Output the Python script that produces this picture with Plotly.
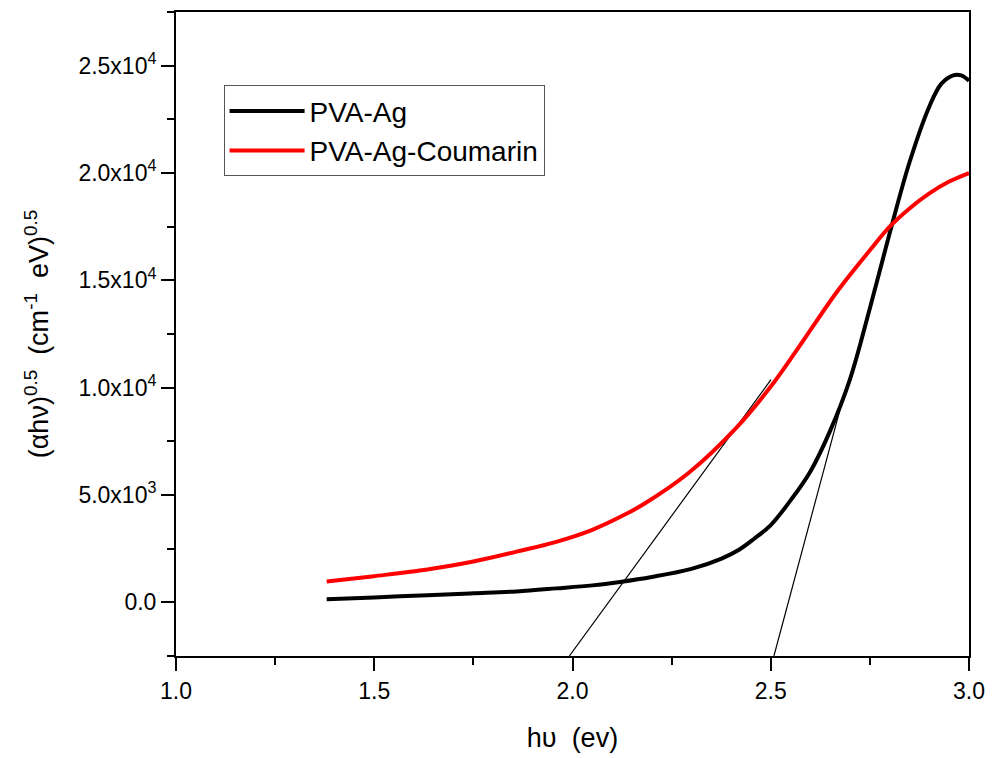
import plotly.graph_objects as go

# PVA-Ag
x_ag = [1.38, 1.5, 1.634, 1.75, 1.859, 1.959, 2.05, 2.12, 2.2, 2.3, 2.376, 2.42, 2.458, 2.5,
        2.55, 2.6, 2.65, 2.7, 2.75, 2.8, 2.85, 2.9, 2.93, 2.96, 2.98, 3.0]
y_ag = [140, 230, 330, 420, 510, 650, 790, 950, 1180, 1560, 2040, 2450, 2960, 3600,
        4750, 6100, 8000, 10400, 13700, 17200, 20500, 23100, 24150, 24550, 24550, 24300]

# PVA-Ag-Coumarin
x_co = [1.38, 1.5, 1.634, 1.75, 1.859, 1.959, 2.05, 2.126, 2.18, 2.291, 2.416, 2.5,
        2.566, 2.668, 2.75, 2.8, 2.85, 2.9, 2.95, 3.0]
y_co = [970, 1220, 1530, 1900, 2360, 2820, 3380, 4030, 4580, 6000, 8190, 10050,
        11760, 14490, 16400, 17500, 18350, 19050, 19600, 20000]

# Tangent (extrapolation) lines
tan1_x = [1.992, 2.5006]
tan1_y = [-2500, 10370]
tan2_x = [2.508, 2.688]
tan2_y = [-2500, 9900]

x_ticks = [1.0, 1.5, 2.0, 2.5, 3.0]
x_labels = ["1.0", "1.5", "2.0", "2.5", "3.0"]
y_ticks = [0, 5000, 10000, 15000, 20000, 25000]
y_labels = ["0.0", "5.0x10<sup>3</sup>", "1.0x10<sup>4</sup>", "1.5x10<sup>4</sup>",
            "2.0x10<sup>4</sup>", "2.5x10<sup>4</sup>"]

FONT = "Liberation Sans"

fig = go.Figure()
fig.add_trace(go.Scatter(x=tan1_x, y=tan1_y, mode="lines", line=dict(color="black", width=1.2),
                         showlegend=False, hoverinfo="skip"))
fig.add_trace(go.Scatter(x=tan2_x, y=tan2_y, mode="lines", line=dict(color="black", width=1.2),
                         showlegend=False, hoverinfo="skip"))
fig.add_trace(go.Scatter(x=x_ag, y=y_ag, mode="lines", name="PVA-Ag",
                         line=dict(color="black", width=4, shape="spline", smoothing=1.0)))
fig.add_trace(go.Scatter(x=x_co, y=y_co, mode="lines", name="PVA-Ag-Coumarin",
                         line=dict(color="#ff0000", width=4, shape="spline", smoothing=1.0)))

axis_common = dict(showline=True, linecolor="black", linewidth=2, mirror=True,
                   showgrid=False, zeroline=False, ticks="outside", tickwidth=2,
                   ticklen=13, tickcolor="black", ticklabeloverflow="allow",
                   tickfont=dict(family=FONT, size=23, color="black"))

fig.update_xaxes(range=[1.0, 3.0], tickvals=x_ticks, ticktext=x_labels,
                 minor=dict(dtick=0.25, tick0=1.0, ticks="outside", ticklen=7, tickwidth=2,
                            tickcolor="black"),
                 title=dict(text="h\u03c5  (ev)", font=dict(family=FONT, size=27, color="black"),
                            standoff=26),
                 **axis_common)
fig.update_yaxes(range=[-2500, 27500], tickvals=y_ticks, ticktext=y_labels,
                 minor=dict(dtick=2500, tick0=0, ticks="outside", ticklen=7, tickwidth=2,
                            tickcolor="black"),
                 title=dict(text="(\u03b1h\u03bd)<sup>0.5</sup>  (cm<sup>-1</sup>  eV)<sup>0.5</sup>",
                            font=dict(family=FONT, size=27, color="black"), standoff=22),
                 **axis_common)

fig.update_layout(
    width=995, height=758,
    margin=dict(l=176, r=18, t=10, b=100),
    plot_bgcolor="white", paper_bgcolor="white",
    font=dict(family=FONT, color="black"),
    legend=dict(x=0.06, y=0.886, xanchor="left", yanchor="top",
                bordercolor="#555555", borderwidth=1, bgcolor="white",
                font=dict(family=FONT, size=28, color="black"),
                itemwidth=75, tracegroupgap=0),
)

fig.write_html("out.html")
